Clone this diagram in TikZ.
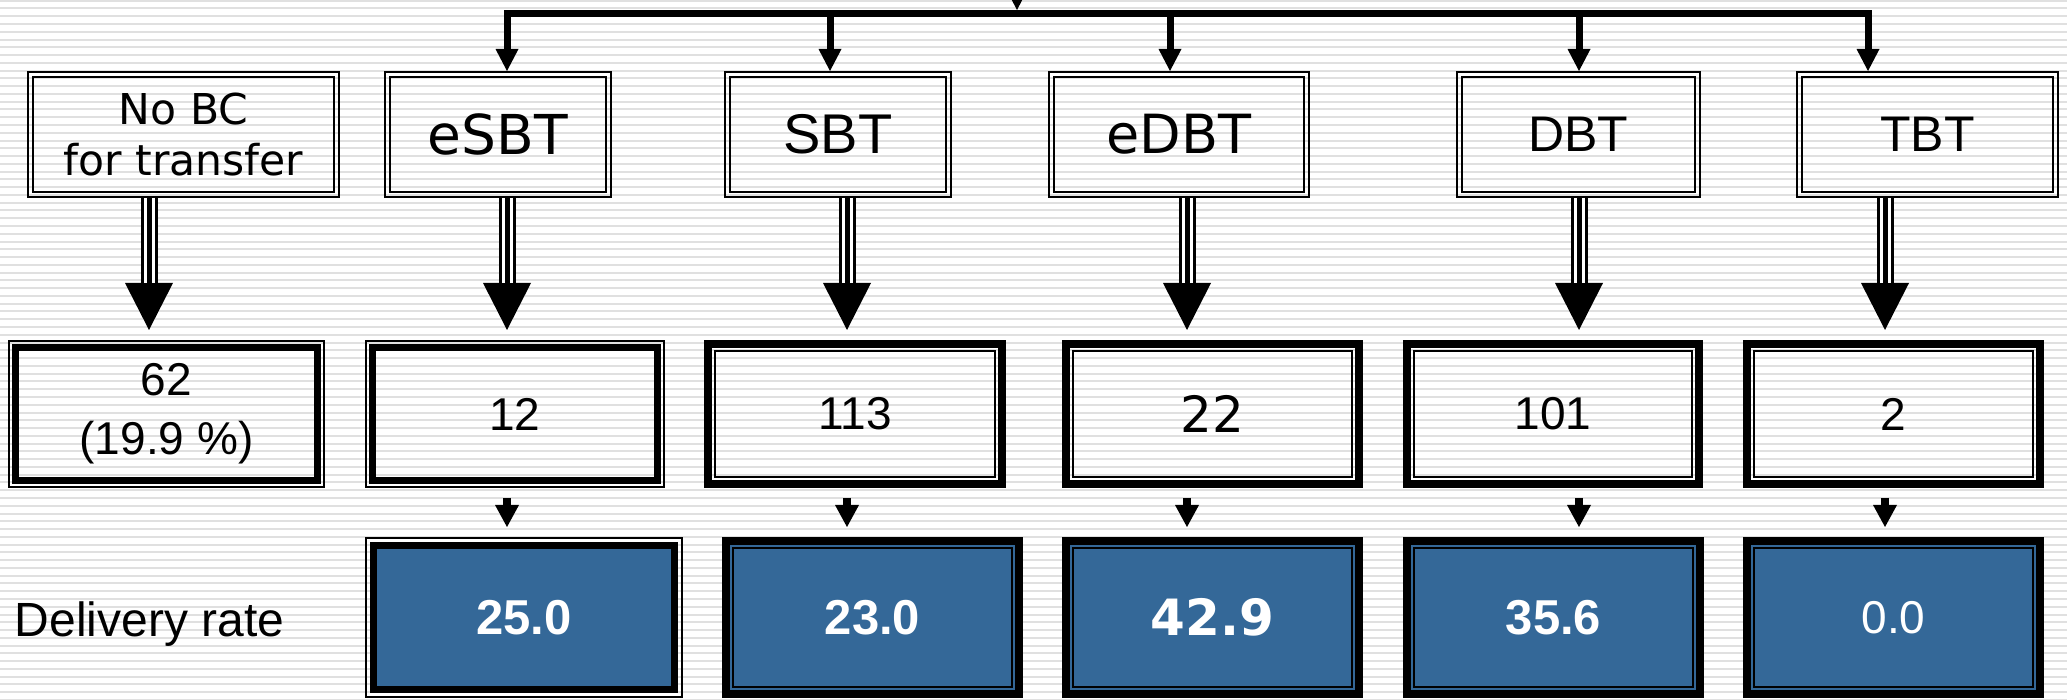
\documentclass[tikz,border=0pt]{standalone}
\usepackage{fontspec}
\setmainfont{Liberation Sans}
\newfontfamily\dejavu{DejaVu Sans}
\usetikzlibrary{arrows.meta}
\definecolor{rateblue}{RGB}{52,104,152}
\definecolor{stripe}{RGB}{224,224,224}

\begin{document}
\begin{tikzpicture}[x=1pt,y=1pt,
  twoline/.style n args={5}{rectangle, inner sep=0pt, outer sep=0pt, align=center,
    path picture={
      \draw[line width=#2pt] ([shift={(#1pt,#1pt)}]path picture bounding box.south west)
        rectangle ([shift={(-#1pt,-#1pt)}]path picture bounding box.north east);
      \draw[line width=#4pt, fill=#5] ([shift={(#3pt,#3pt)}]path picture bounding box.south west)
        rectangle ([shift={(-#3pt,-#3pt)}]path picture bounding box.north east);}},
  method/.style={twoline={1}{2}{6.05}{2.5}{none}, minimum height=127pt},
  countA/.style={twoline={1}{2}{7.2}{7}{none}, minimum height=148pt},
  countB/.style={twoline={3.85}{7.7}{10.7}{2}{none}, minimum height=148pt},
  rateA/.style={twoline={1.2}{2.4}{8.55}{7.7}{rateblue}, minimum height=161pt, text=white},
  rateB/.style={twoline={3.85}{7.7}{10.85}{1.7}{none}, fill=rateblue, minimum height=161pt, text=white},
  drop/.style={line width=7pt, -{Triangle[width=23pt,length=22pt,line width=0pt]}},
  fat/.style={line width=17pt, shorten >=10pt, -{Triangle[width=48pt,length=47pt,line width=0pt]},
    postaction={draw, -, white, line width=11pt, shorten >=57pt},
    postaction={draw, -, black, line width=5pt, shorten >=57pt}},
  small/.style={line width=8pt, shorten <=10pt, shorten >=10pt, -{Triangle[width=24pt,length=22pt,line width=0pt]}},
]
  \useasboundingbox (0,0) rectangle (2067,699);
  \clip (0,0) rectangle (2067,699);
  \fill[white] (0,0) rectangle (2067,699);
  \foreach \k in {0,...,90}
    \draw[stripe, line width=2pt] (0,{698.3-7.77*\k}) -- (2067,{698.3-7.77*\k});

  % methods
  \path
  node[method, minimum width=313pt, font=\dejavu\fontsize{42.5}{51}\selectfont] (nobc) at (183.5,564.5) {No BC\\for transfer}
  node[method, minimum width=228pt, font=\dejavu\fontsize{55}{60}\selectfont] (esbt) at (498,564.5) {eSBT}
  node[method, minimum width=228pt, font=\fontsize{56}{60}\selectfont] (sbt) at (838,564.5) {SBT}
  node[method, minimum width=262pt, font=\dejavu\fontsize{54}{60}\selectfont] (edbt) at (1179,564.5) {eDBT}
  node[method, minimum width=245pt, font=\fontsize{50}{60}\selectfont] (dbt) at (1578.5,564.5) {DBT}
  node[method, minimum width=263pt, font=\fontsize{50}{60}\selectfont] (tbt) at (1927.5,564.5) {TBT}
  ;
  % counts
  \path
  node[countA, minimum width=317pt, font=\fontsize{46}{59}\selectfont] (c62) at (166.5,285) {62\\(19.9 \%)}
  node[countA, minimum width=300pt, font=\fontsize{46}{55}\selectfont] (c12) at (515,285) {12}
  node[countB, minimum width=302pt, font=\fontsize{46}{55}\selectfont] (c113) at (855,285) {113}
  node[countB, minimum width=301pt, font=\dejavu\fontsize{50}{55}\selectfont] (c22) at (1212.5,285) {22}
  node[countB, minimum width=300pt, font=\fontsize{46}{55}\selectfont] (c101) at (1553,285) {101}
  node[countB, minimum width=301pt, font=\fontsize{46}{55}\selectfont] (c2) at (1893.5,285) {2}
  ;
  % delivery rates
  \path
  node[rateA, minimum width=318pt, font=\bfseries\fontsize{49}{55}\selectfont] (r25) at (524,81.5) {25.0}
  node[rateB, minimum width=301pt, font=\bfseries\fontsize{49}{55}\selectfont] (r23) at (872.5,81.5) {23.0}
  node[rateB, minimum width=301pt, font=\dejavu\bfseries\fontsize{50}{55}\selectfont] (r429) at (1212.5,81.5) {42.9}
  node[rateB, minimum width=301pt, font=\bfseries\fontsize{49}{55}\selectfont] (r356) at (1553.5,81.5) {35.6}
  node[rateB, minimum width=301pt, font=\fontsize{46}{55}\selectfont] (r00) at (1893.5,81.5) {0.0}
  node[anchor=base, font=\fontsize{48}{56}\selectfont] (dlabel) at (149.5,63) {Delivery rate}
  ;

  % feed bar
  \coordinate (hub) at (1017,685.5);
  \coordinate (feed) at (1017,760);
  \draw[drop, shorten >=3.5pt] (feed) -- (hub);
  \draw[line width=7pt, line cap=rect] ([xshift=9pt]esbt.north |- hub) -- ([xshift=-59.5pt]tbt.north |- hub);
  \draw[drop] ([xshift=9pt]esbt.north |- hub) -- ([xshift=9pt]esbt.north);
  \draw[drop] ([xshift=-8pt]sbt.north |- hub) -- ([xshift=-8pt]sbt.north);
  \draw[drop] ([xshift=-9pt]edbt.north |- hub) -- ([xshift=-9pt]edbt.north);
  \draw[drop] ([xshift=0.5pt]dbt.north |- hub) -- ([xshift=0.5pt]dbt.north);
  \draw[drop] ([xshift=-59.5pt]tbt.north |- hub) -- ([xshift=-59.5pt]tbt.north);

  % methods to counts
  \draw[fat] ([xshift=-34.5pt]nobc.south) -- ([xshift=-34.5pt]nobc.south |- c62.north);
  \draw[fat] ([xshift=9pt]esbt.south) -- ([xshift=9pt]esbt.south |- c12.north);
  \draw[fat] ([xshift=9pt]sbt.south) -- ([xshift=9pt]sbt.south |- c113.north);
  \draw[fat] ([xshift=8pt]edbt.south) -- ([xshift=8pt]edbt.south |- c22.north);
  \draw[fat] ([xshift=0.5pt]dbt.south) -- ([xshift=0.5pt]dbt.south |- c101.north);
  \draw[fat] ([xshift=-42.5pt]tbt.south) -- ([xshift=-42.5pt]tbt.south |- c2.north);

  % counts to rates
  \draw[small] ([xshift=-8pt]c12.south) -- ([xshift=-8pt]c12.south |- r25.north);
  \draw[small] ([xshift=-8pt]c113.south) -- ([xshift=-8pt]c113.south |- r23.north);
  \draw[small] ([xshift=-25.5pt]c22.south) -- ([xshift=-25.5pt]c22.south |- r429.north);
  \draw[small] ([xshift=26pt]c101.south) -- ([xshift=26pt]c101.south |- r356.north);
  \draw[small] ([xshift=-8.5pt]c2.south) -- ([xshift=-8.5pt]c2.south |- r00.north);
\end{tikzpicture}
\end{document}
